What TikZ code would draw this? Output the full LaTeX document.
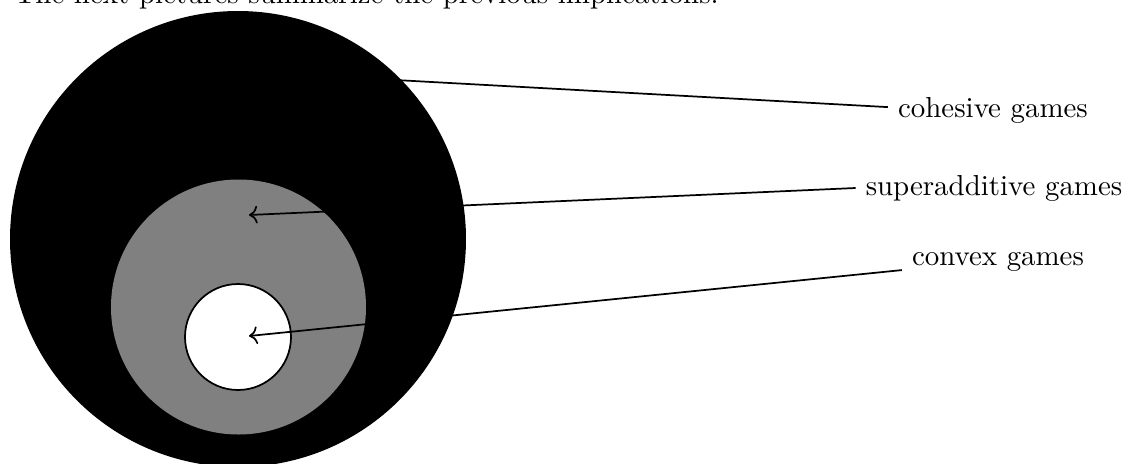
\documentclass[tikz,border=0pt]{standalone}
\usetikzlibrary{arrows.meta,positioning}
\tikzset{setlbl/.style={anchor=center,inner sep=3.33pt},ptr/.style={->,semithick}}
\begin{document}
\begin{tikzpicture}[x=0.346pt,y=0.346pt]
\useasboundingbox (0,0) rectangle (1129,463);
\node[anchor=base west,inner sep=0] (intro) at (14,459.5) {The next pictures summarize the previous implications.};
% nested sets
\fill[black] (238,224) circle[radius=228];\fill[gray] (238.5,156) circle[radius=127.5];\filldraw[fill=white,draw=black,semithick] (238,126) circle[radius=53];
\coordinate (cohtip) at (250,391);\coordinate (suptip) at (249,248);\coordinate (cvxtip) at (249,127);
\node[setlbl] (coh) at (993,353) {cohesive games};\node[setlbl] (sup) at (994,275) {superadditive games};\node[setlbl] (cvx) at (998,201) {convex games};
\draw[ptr] ([yshift=1pt]coh.west) -- (cohtip);\draw[ptr] (sup.west) -- (suptip);\draw[ptr] ([yshift=-2.8pt]cvx.west) -- (cvxtip);
\end{tikzpicture}
\end{document}
